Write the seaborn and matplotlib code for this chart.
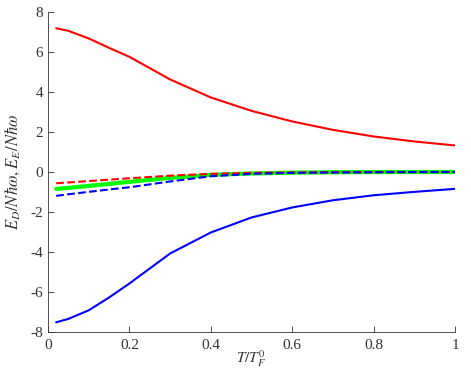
"""
Dimer / exchange energy vs reduced temperature
"""

import pandas as pd
import matplotlib.pyplot as plt
import seaborn as sns

# ---------- DATA ----------
T = [0.02, 0.05, 0.1, 0.15, 0.2, 0.3, 0.4, 0.5, 0.6, 0.7, 0.8, 0.9, 1.0]

ed_upper = [7.18, 7.05, 6.67, 6.2, 5.75, 4.62, 3.72, 3.05, 2.52, 2.1, 1.77, 1.52, 1.32]
ed_lower = [-7.52, -7.35, -6.92, -6.28, -5.58, -4.08, -3.03, -2.28, -1.78, -1.42, -1.17, -1.0, -0.85]
ee_green = [-0.85, -0.8, -0.7, -0.6, -0.5, -0.3, -0.15, -0.08, -0.04, -0.02, -0.01, -0.01, -0.005]
ee_red = [-0.57, -0.53, -0.46, -0.39, -0.32, -0.19, -0.1, -0.05, -0.03, -0.02, -0.01, -0.01, -0.005]
ee_blue = [-1.2, -1.12, -1.0, -0.88, -0.77, -0.48, -0.22, -0.1, -0.05, -0.03, -0.02, -0.01, -0.01]

df = pd.DataFrame({"T": T, "ed_upper": ed_upper, "ed_lower": ed_lower,
                   "ee_green": ee_green, "ee_red": ee_red, "ee_blue": ee_blue})

# ---------- STYLE ----------
sns.set_style("ticks")
plt.rcParams["font.family"] = ["Liberation Serif", "DejaVu Serif"]
plt.rcParams["mathtext.fontset"] = "stix"
plt.rcParams["axes.unicode_minus"] = False

fig = plt.figure(figsize=(4.71, 3.70), dpi=100)
ax = fig.add_axes([0.102, 0.103, 0.864, 0.865])

# ---------- PLOT ----------
sns.lineplot(x="T", y="ee_green", data=df, color="#00ff00", lw=3, ax=ax)
sns.lineplot(x="T", y="ee_red", data=df, color="red", lw=1.5, ls="--", ax=ax)
sns.lineplot(x="T", y="ee_blue", data=df, color="blue", lw=1.5, ls="--", ax=ax)
sns.lineplot(x="T", y="ed_upper", data=df, color="red", lw=1.5, ax=ax)
sns.lineplot(x="T", y="ed_lower", data=df, color="blue", lw=1.5, ax=ax)

ax.set_xlim(0, 1)
ax.set_ylim(-8, 8)
ax.set_xticks([0, 0.2, 0.4, 0.6, 0.8, 1])
ax.set_xticklabels(["0", "0.2", "0.4", "0.6", "0.8", "1"])
ax.set_yticks(range(-8, 9, 2))
ax.set_yticklabels([str(v) for v in range(-8, 9, 2)])
ax.tick_params(direction="in", length=4, width=0.6, labelsize=11, colors="#333333")
ax.tick_params(axis="x", pad=5)
for s in ["left", "bottom"]:
    ax.spines[s].set_linewidth(0.6)
    ax.spines[s].set_color("#333333")
sns.despine(ax=ax)

ax.set_xlabel(r"$T/T_F^0$", fontsize=11, color="#333333")
ax.xaxis.set_label_coords(0.5, -0.052)
ax.set_ylabel(r"$E_D/N\hbar\omega, E_E/N\hbar\omega$", fontsize=12, color="#333333")
ax.yaxis.set_label_coords(-0.065, 0.5)

fig.savefig("out.png", dpi=100)
